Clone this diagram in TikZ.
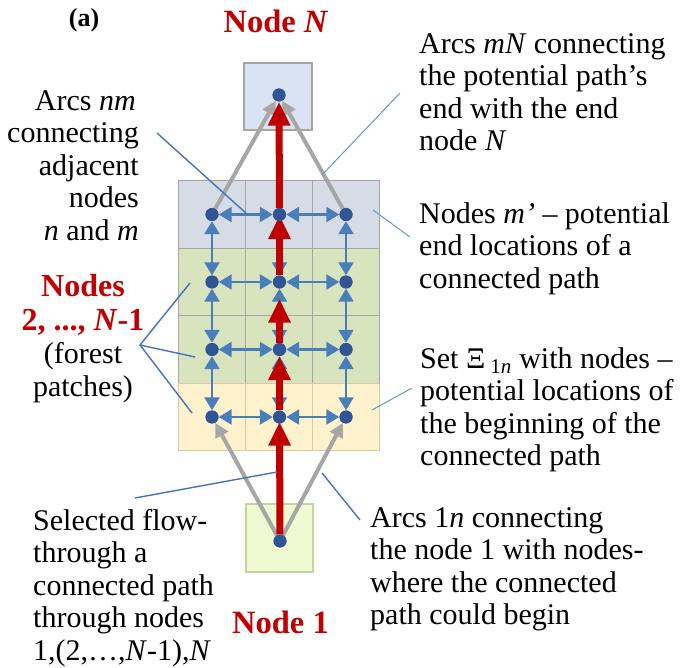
\documentclass[tikz,border=0pt]{standalone}
\usepackage{fontspec}
\setmainfont{Liberation Serif}
\usetikzlibrary{arrows.meta}

\definecolor{cellline}{HTML}{A6A6A6}
\definecolor{topfill}{HTML}{D6DCE5}
\definecolor{endfill}{HTML}{DAE3F3}
\definecolor{forestfill}{HTML}{D8E4BD}
\definecolor{startfill}{HTML}{FFF2CC}
\definecolor{startline}{HTML}{D5CBA8}
\definecolor{sourcefill}{HTML}{EFF9D2}
\definecolor{sourceline}{HTML}{C5D3A0}
\definecolor{dotblue}{HTML}{2F5597}
\definecolor{arcblue}{HTML}{4A7EBB}
\definecolor{flowred}{HTML}{C00000}
\definecolor{greyarc}{HTML}{A6A6A6}
\definecolor{leaderdark}{HTML}{4472C4}
\definecolor{leaderlight}{HTML}{5B9BD5}

\tikzset{
  cell/.style={draw=cellline, line width=1.3pt, minimum width=67.5pt, minimum height=67.5pt, inner sep=0pt},
  dot/.style={circle, fill=dotblue, minimum size=13pt, inner sep=0pt},
  adjarc/.style={draw=arcblue, line width=2.2pt, {Triangle[length=13pt,width=15pt]}-{Triangle[length=13pt,width=15pt]}},
  greyline/.style={draw=greyarc, line width=4pt, -{Triangle[length=14pt,width=14pt]}},
  flowline/.style={draw=flowred, line width=7pt, -{Triangle[length=24pt,width=21pt]}},
  leader/.style={draw=leaderdark, line width=1.4pt},
  thinleader/.style={draw=leaderlight, line width=1pt},
  body/.style={inner sep=0pt, font=\fontsize{30}{32.5}\selectfont},
  redlabel/.style={inner sep=0pt, text=flowred, font=\fontsize{32.5}{34.5}\selectfont\bfseries},
}

\begin{document}
\begin{tikzpicture}[x=1pt,y=-1pt]
\useasboundingbox (0,0) rectangle (680,668);

% grid of patches
\foreach \r/\y/\f in {1/214.5/topfill, 2/282/forestfill, 3/349.5/forestfill, 4/417/startfill} {
  \foreach \c/\x in {1/212, 2/279.5, 3/346} {
    \node[cell, fill=\f] (c\r\c) at (\x,\y) {};
  }
}
\foreach \c in {1,2,3} { \node[cell, draw=startline, fill=startfill] (c4\c x) at (c4\c) {}; }

% start and end nodes
\node[cell, fill=endfill, minimum width=68pt, minimum height=67pt] (boxN) at (278,96.5) {};
\node[cell, draw=sourceline, fill=sourcefill, minimum width=67pt, minimum height=68pt] (box1) at (279.5,538) {};

% node dots
\foreach \r in {1,2,3,4} { \foreach \c in {1,2,3} { \coordinate (p\r\c) at (c\r\c.center); } }
\node[dot] (dN) at (279,95) {};
\node[dot] (d1) at (280,541) {};
\foreach \r in {1,2,3,4} { \foreach \c in {1,2,3} { \node[dot] (d\r\c) at (p\r\c) {}; } }

% grey arcs from node 1 and to node N
\draw[greyline] (d1) -- (d41);
\draw[greyline] (d1) -- (d43);
\draw[greyline] (d11) -- (dN);
\draw[greyline] (d13) -- (dN);

% arcs between adjacent nodes
\foreach \r in {1,2,3,4} {
  \draw[adjarc] (d\r1) -- (d\r2);
  \draw[adjarc] (d\r2) -- (d\r3);
}
\foreach \c in {1,2,3} {
  \draw[adjarc] (d1\c) -- (d2\c);
  \draw[adjarc] (d2\c) -- (d3\c);
  \draw[adjarc] (d3\c) -- (d4\c);
}

% selected flow
\draw[flowline, shorten >=-2pt] (d1) -- (d42);
\draw[flowline] (d42) -- (d32);
\draw[flowline, shorten >=10pt] (d32) -- (d22);
\draw[flowline, shorten >=-6pt] (d22) -- (d12);
\draw[flowline] (d12) -- (dN);

% redraw dots on top
\node[dot] at (dN) {};
\node[dot] at (d1) {};
\foreach \r in {1,2,3,4} { \foreach \c in {1,2,3} { \node[dot] at (d\r\c) {}; } }

% titles
\node[inner sep=0pt, anchor=base, font=\fontsize{26}{28}\selectfont\bfseries] (tag) at (84,26.5) {(a)};
\node[redlabel, anchor=base] (labN) at (276,33) {Node \textit{N}};
\node[redlabel, anchor=base] (lab1) at (280.5,633) {Node 1};

% descriptions
\node[body, anchor=north east, align=right] (tadj) at (139,90)
  {Arcs \textit{nm}\hspace*{3pt}\\connecting\\adjacent\hspace*{8pt}\\nodes\\\textit{n} and \textit{m}};
\node[body, anchor=north west, align=left] (tend) at (419,33)
  {Arcs \textit{mN} connecting\\the potential path’s\\end with the end\\node \textit{N}};
\node[body, anchor=north west, align=left] (tlast) at (419,202)
  {Nodes \textit{m’} – potential\\end locations of a\\connected path};
\node[body, anchor=north west, align=left] (tset) at (420,347)
  {Set Ξ\,\textsubscript{1\textit{n}} with nodes –\\potential locations of\\the beginning of the\\connected path};
\node[body, anchor=north west, align=left] (tfirst) at (370,507)
  {Arcs 1\textit{n} connecting\\the node 1 with nodes-\\where the connected\\path could begin};
\node[body, anchor=north west, align=left] (tflow) at (33,509)
  {Selected flow-\\through a\\connected path\\through nodes\\1,(2,…,\textit{N}-1),\textit{N}};
\node[redlabel, anchor=north, align=center, font=\fontsize{32}{34.5}\selectfont\bfseries] (tmid) at (83,274)
  {Nodes\\2, ..., \textit{N}-1};
\node[body, anchor=north, align=center, font=\fontsize{30}{33.5}\selectfont] (tforest) at (83,342)
  {(forest\\patches)};

% leader lines
\coordinate (ladjA) at (157,133);  \coordinate (ladjB) at (247,214);
\coordinate (lendA) at (400,93);   \coordinate (lendB) at (322,175);
\coordinate (llastA) at (373,210); \coordinate (llastB) at (410,237);
\coordinate (lsetA) at (372,410);  \coordinate (lsetB) at (412,388);
\coordinate (lfirstA) at (322,473); \coordinate (lfirstB) at (360,520);
\coordinate (lflowA) at (135,498); \coordinate (lflowB) at (277,472);
\coordinate (lmid) at (140,345);
\coordinate (lmid1) at (190,283); \coordinate (lmid2) at (195,357); \coordinate (lmid3) at (192,413);

\draw[leader] (ladjA) -- (ladjB);
\draw[thinleader] (lendA) -- (lendB);
\draw[thinleader] (llastA) -- (llastB);
\draw[thinleader] (lsetA) -- (lsetB);
\draw[leader] (lfirstA) -- (lfirstB);
\draw[leader] (lflowA) -- (lflowB);
\draw[leader] (lmid1) -- (lmid) -- (lmid2);
\draw[leader] (lmid) -- (lmid3);
\end{tikzpicture}
\end{document}
